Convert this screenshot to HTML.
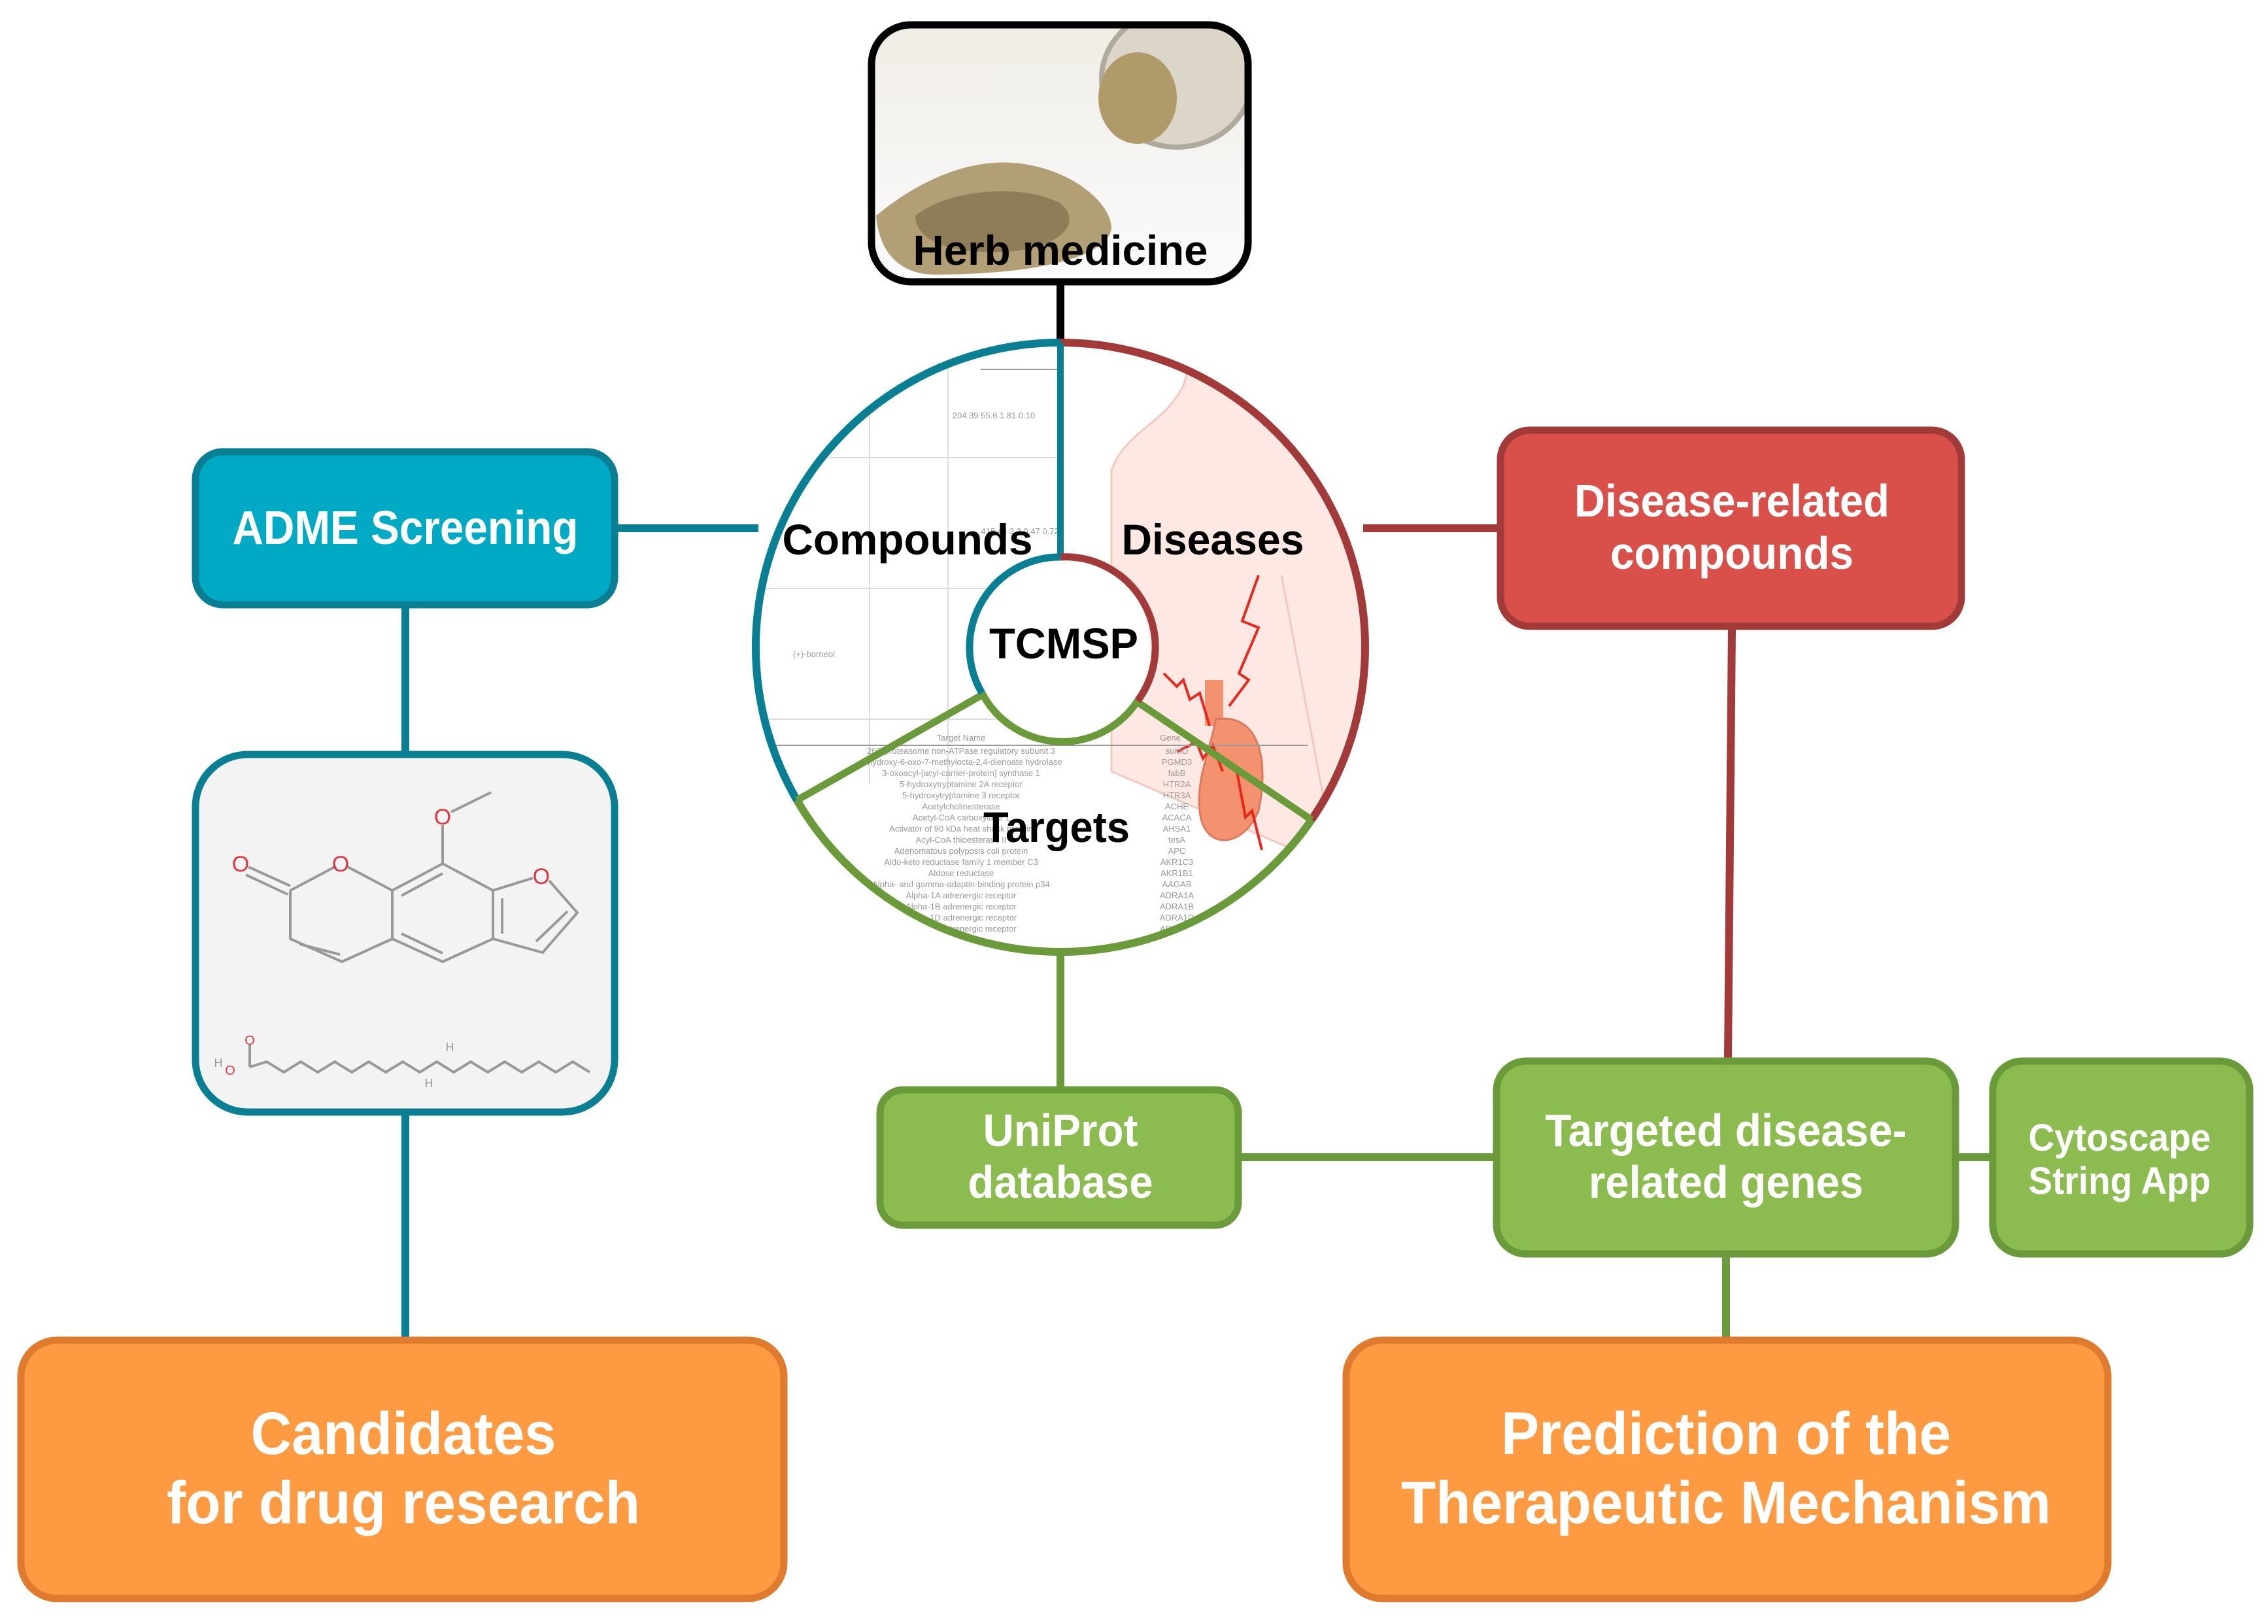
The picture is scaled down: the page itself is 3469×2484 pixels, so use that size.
<!DOCTYPE html>
<html><head><meta charset="utf-8"><style>
html,body{margin:0;padding:0;background:#fff;}
svg{display:block;}
.n{font-family:"Liberation Sans Narrow","Liberation Sans",sans-serif;font-weight:bold;fill:#fff;text-anchor:middle;}
.b{font-family:"Liberation Sans",sans-serif;font-weight:bold;fill:#000;text-anchor:middle;}
.t{font-family:"Liberation Sans",sans-serif;fill:#999;font-size:13px;text-anchor:middle;}
</style></head><body>
<svg width="3469" height="2484" viewBox="0 0 3469 2484" xmlns="http://www.w3.org/2000/svg">
<defs>
<linearGradient id="bg" x1="0" y1="0" x2="0" y2="1"><stop offset="0" stop-color="#f0ede6"/><stop offset="1" stop-color="#fbfbfd"/></linearGradient>
<clipPath id="herb"><rect x="1333" y="38" width="576" height="393" rx="60"/></clipPath>
<clipPath id="circ"><circle cx="1622" cy="990" r="466"/></clipPath>
</defs>

<!-- connectors -->
<line x1="1622" y1="436" x2="1622" y2="530" stroke="#000" stroke-width="12"/>
<line x1="945" y1="808" x2="1160" y2="808" stroke="#0a7f93" stroke-width="12"/>
<line x1="620" y1="930" x2="620" y2="1149" stroke="#0a7f93" stroke-width="12"/>
<line x1="620" y1="1706" x2="620" y2="2045" stroke="#0a7f93" stroke-width="12"/>
<line x1="2085" y1="808" x2="2290" y2="808" stroke="#a23a3a" stroke-width="12"/>
<line x1="2649" y1="963" x2="2643" y2="1618" stroke="#a23a3a" stroke-width="12"/>
<line x1="1622" y1="1452" x2="1622" y2="1662" stroke="#6a9a3a" stroke-width="12"/>
<line x1="1899" y1="1770" x2="2284" y2="1770" stroke="#6a9a3a" stroke-width="12"/>
<line x1="2996" y1="1770" x2="3043" y2="1770" stroke="#6a9a3a" stroke-width="12"/>
<line x1="2640" y1="1923" x2="2640" y2="2045" stroke="#6a9a3a" stroke-width="12"/>

<!-- Herb box -->
<g clip-path="url(#herb)">
<rect x="1333" y="38" width="576" height="393" fill="url(#bg)"/>
<ellipse cx="1800" cy="120" rx="115" ry="105" fill="#dcd6c8" stroke="#b0aa9e" stroke-width="8"/>
<ellipse cx="1740" cy="150" rx="60" ry="70" fill="#b09a6a"/>
<path d="M1340 330 C1400 280 1480 240 1560 250 C1640 260 1700 310 1700 350 C1690 400 1560 420 1430 420 C1380 420 1345 390 1340 330Z" fill="#b29f76"/>
<path d="M1400 330 C1450 290 1560 280 1620 310 C1660 340 1620 380 1540 385 C1460 390 1400 370 1400 330Z" fill="#8f7c58"/>
</g>
<rect x="1333" y="38" width="576" height="393" rx="60" fill="none" stroke="#000" stroke-width="11"/>
<text class="b" x="1622" y="405" font-size="64" textLength="451" lengthAdjust="spacingAndGlyphs">Herb medicine</text>

<!-- Circle -->
<g clip-path="url(#circ)">
<rect x="1150" y="520" width="950" height="950" fill="#fff"/>
<path d="M1700 1180 L1700 720 C1720 660 1780 650 1810 590 L1830 520 L2100 520 L2100 1300 L1980 1300 Z" fill="#fde8e3" stroke="#f2c9c0" stroke-width="3"/>
<path d="M1960 880 L2030 1250" stroke="#f2c9c0" stroke-width="3"/>
<rect x="1843" y="1040" width="28" height="70" fill="#f4916e"/>
<path d="M1860 1100 C1930 1090 1940 1170 1925 1240 C1900 1300 1840 1300 1835 1240 C1830 1190 1850 1150 1860 1100Z" fill="#f4916e" stroke="#d97a60" stroke-width="3"/>
<path d="M1780 1030 L1800 1050 L1810 1040 L1820 1070 L1835 1060 L1850 1110 M1925 880 L1900 950 L1925 960 L1895 1030 L1910 1040 L1880 1080 M1800 1150 L1830 1135 L1840 1160 L1855 1140 L1870 1180 M1890 1170 L1905 1250 L1915 1240 L1930 1300" fill="none" stroke="#e8281e" stroke-width="4"/>
<g stroke="#ddd" stroke-width="2">
<line x1="1160" y1="700" x2="1622" y2="700"/><line x1="1160" y1="900" x2="1622" y2="900"/><line x1="1160" y1="1100" x2="1622" y2="1100"/>
<line x1="1330" y1="560" x2="1330" y2="1200"/><line x1="1450" y1="560" x2="1450" y2="1200"/>
<line x1="1500" y1="565" x2="1622" y2="565" stroke="#999"/>
</g>
<text class="t" x="1520" y="640" font-size="16">204.39  55.6  1.81  0.10</text>
<text class="t" x="1245" y="1005" font-size="16">(+)-borneol</text>
<text class="t" x="1560" y="817" font-size="16">418.48  3.3  0.47  0.72</text>
<g>
<text class="t" x="1470" y="1133">Target Name</text><text class="t" x="1790" y="1133">Gene</text>
<line x1="1180" y1="1140" x2="2000" y2="1140" stroke="#999" stroke-width="2"/>
<text class="t" x="1470" y="1153">26S proteasome non-ATPase regulatory subunit 3</text><text class="t" x="1800" y="1153">sumO</text>
<text class="t" x="1470" y="1170">2-hydroxy-6-oxo-7-methylocta-2,4-dienoate hydrolase</text><text class="t" x="1800" y="1170">PGMD3</text>
<text class="t" x="1470" y="1187">3-oxoacyl-[acyl-carrier-protein] synthase 1</text><text class="t" x="1800" y="1187">fabB</text>
<text class="t" x="1470" y="1204">5-hydroxytryptamine 2A receptor</text><text class="t" x="1800" y="1204">HTR2A</text>
<text class="t" x="1470" y="1221">5-hydroxytryptamine 3 receptor</text><text class="t" x="1800" y="1221">HTR3A</text>
<text class="t" x="1470" y="1238">Acetylcholinesterase</text><text class="t" x="1800" y="1238">ACHE</text>
<text class="t" x="1470" y="1255">Acetyl-CoA carboxylase 1</text><text class="t" x="1800" y="1255">ACACA</text>
<text class="t" x="1470" y="1272">Activator of 90 kDa heat shock protein</text><text class="t" x="1800" y="1272">AHSA1</text>
<text class="t" x="1470" y="1289">Acyl-CoA thioesterase II</text><text class="t" x="1800" y="1289">tesA</text>
<text class="t" x="1470" y="1306">Adenomatous polyposis coli protein</text><text class="t" x="1800" y="1306">APC</text>
<text class="t" x="1470" y="1323">Aldo-keto reductase family 1 member C3</text><text class="t" x="1800" y="1323">AKR1C3</text>
<text class="t" x="1470" y="1340">Aldose reductase</text><text class="t" x="1800" y="1340">AKR1B1</text>
<text class="t" x="1470" y="1357">Alpha- and gamma-adaptin-binding protein p34</text><text class="t" x="1800" y="1357">AAGAB</text>
<text class="t" x="1470" y="1374">Alpha-1A adrenergic receptor</text><text class="t" x="1800" y="1374">ADRA1A</text>
<text class="t" x="1470" y="1391">Alpha-1B adrenergic receptor</text><text class="t" x="1800" y="1391">ADRA1B</text>
<text class="t" x="1470" y="1408">Alpha-1D adrenergic receptor</text><text class="t" x="1800" y="1408">ADRA1D</text>
<text class="t" x="1470" y="1425">Alpha-2A adrenergic receptor</text><text class="t" x="1800" y="1425">ADRA2A</text>
</g>
</g>
<path d="M1622 524 A466 466 0 0 0 1219 1224" fill="none" stroke="#0a7f93" stroke-width="12"/>
<path d="M1622 524 A466 466 0 0 1 2006 1254" fill="none" stroke="#a23a3a" stroke-width="12"/>
<path d="M1219 1224 A466 466 0 0 0 2006 1254" fill="none" stroke="#6a9a3a" stroke-width="12"/>
<line x1="1622" y1="524" x2="1622" y2="852" stroke="#0a7f93" stroke-width="10"/>
<line x1="1502" y1="1063" x2="1219" y2="1224" stroke="#6a9a3a" stroke-width="11"/>
<line x1="1740" y1="1074" x2="2006" y2="1254" stroke="#6a9a3a" stroke-width="11"/>
<circle cx="1622" cy="990" r="138" fill="#fff"/>
<path d="M1622 852 A138 138 0 0 0 1502 1060" fill="none" stroke="#0a7f93" stroke-width="11"/>
<path d="M1622 852 A138 138 0 0 1 1740 1072" fill="none" stroke="#a23a3a" stroke-width="11"/>
<path d="M1502 1060 A138 138 0 0 0 1740 1072" fill="none" stroke="#6a9a3a" stroke-width="11"/>
<text class="b" x="1388" y="848" font-size="66" textLength="383" lengthAdjust="spacingAndGlyphs">Compounds</text>
<text class="b" x="1855" y="848" font-size="66" textLength="279" lengthAdjust="spacingAndGlyphs">Diseases</text>
<text class="b" x="1627" y="1007" font-size="66" textLength="228" lengthAdjust="spacingAndGlyphs">TCMSP</text>
<text class="b" x="1616" y="1288" font-size="66" textLength="224" lengthAdjust="spacingAndGlyphs">Targets</text>

<rect x="299" y="691" width="641" height="234" rx="42" fill="#00aac5" stroke="#0a7f93" stroke-width="11"/>
<text class="n" x="620" y="832" font-size="72" textLength="529" lengthAdjust="spacingAndGlyphs">ADME Screening</text>

<rect x="299" y="1154" width="641" height="547" rx="80" fill="#f3f3f3" stroke="#0a7f93" stroke-width="11"/>
<g stroke="#999" stroke-width="4" fill="none">
<path d="M444 1362 L514 1325 M530 1325 L600 1362 L677 1321 L754 1362 L754 1436 L677 1471 L600 1436 L600 1362 M600 1436 L523 1471 L444 1436 L444 1362 M677 1321 L677 1262 M690 1242 L751 1212 M754 1362 L815 1343 M840 1347 L883 1396 L830 1457 L754 1436"/>
<path d="M614 1370 L677 1336 M614 1428 L677 1458 M458 1444 L520 1460 M768 1374 L768 1428 M820 1440 L868 1394 M444 1355 L380 1326 M440 1368 L376 1338"/>
<path d="M382 1632 L408 1624 L434 1640 L460 1624 L486 1640 L512 1624 L538 1640 L564 1624 L590 1640 L616 1624 L642 1640 L668 1624 L694 1640 L720 1624 L746 1640 L772 1624 L798 1640 L824 1624 L850 1640 L876 1624 L902 1640"/>
<path d="M382 1632 L382 1598"/>
</g>
<g font-family="Liberation Sans,sans-serif" font-size="34" fill="#e0363f" text-anchor="middle">
<text x="368" y="1333">O</text><text x="521" y="1333">O</text><text x="677" y="1261">O</text><text x="828" y="1352">O</text>
<text x="382" y="1598" font-size="20">O</text><text x="352" y="1644" font-size="20">O</text>
</g>
<g font-family="Liberation Sans,sans-serif" font-size="18" fill="#999" text-anchor="middle"><text x="334" y="1632">H</text><text x="688" y="1608">H</text><text x="656" y="1663">H</text></g>

<rect x="32" y="2050" width="1167" height="395" rx="55" fill="#fd9a42" stroke="#e07a2e" stroke-width="11"/>
<text class="n" x="617" y="2224" font-size="92" textLength="467" lengthAdjust="spacingAndGlyphs">Candidates</text>
<text class="n" x="617" y="2330" font-size="92" textLength="724" lengthAdjust="spacingAndGlyphs">for drug research</text>

<rect x="2295" y="658" width="705" height="300" rx="45" fill="#d9504a" stroke="#a23a3a" stroke-width="11"/>
<text class="n" x="2649" y="790" font-size="70" textLength="482" lengthAdjust="spacingAndGlyphs">Disease-related</text>
<text class="n" x="2649" y="870" font-size="70" textLength="372" lengthAdjust="spacingAndGlyphs">compounds</text>

<rect x="1346" y="1667" width="548" height="207" rx="35" fill="#8cbb4f" stroke="#6a9a3a" stroke-width="11"/>
<text class="n" x="1622" y="1753" font-size="70" textLength="237" lengthAdjust="spacingAndGlyphs">UniProt</text>
<text class="n" x="1622" y="1832" font-size="70" textLength="283" lengthAdjust="spacingAndGlyphs">database</text>

<rect x="2289" y="1623" width="702" height="295" rx="45" fill="#8cbb4f" stroke="#6a9a3a" stroke-width="11"/>
<text class="n" x="2640" y="1753" font-size="70" textLength="553" lengthAdjust="spacingAndGlyphs">Targeted disease-</text>
<text class="n" x="2640" y="1832" font-size="70" textLength="420" lengthAdjust="spacingAndGlyphs">related genes</text>

<rect x="3048" y="1623" width="393" height="295" rx="45" fill="#8cbb4f" stroke="#6a9a3a" stroke-width="11"/>
<text class="n" x="3242" y="1760" font-size="58" textLength="279" lengthAdjust="spacingAndGlyphs">Cytoscape</text>
<text class="n" x="3242" y="1826" font-size="58" textLength="279" lengthAdjust="spacingAndGlyphs">String App</text>

<rect x="2059" y="2050" width="1165" height="395" rx="55" fill="#fd9a42" stroke="#e07a2e" stroke-width="11"/>
<text class="n" x="2640" y="2224" font-size="92" textLength="688" lengthAdjust="spacingAndGlyphs">Prediction of the</text>
<text class="n" x="2640" y="2330" font-size="92" textLength="994" lengthAdjust="spacingAndGlyphs">Therapeutic Mechanism</text>
</svg>
</body></html>
